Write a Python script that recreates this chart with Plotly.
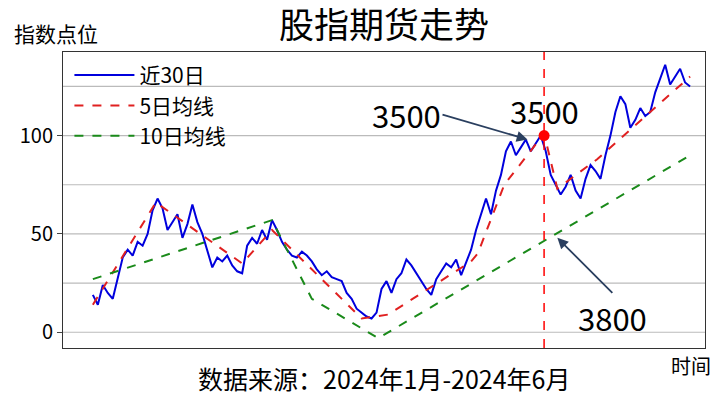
import plotly.graph_objects as go

# 近30日 (day index, value)
blue_day = [i * 1.5 for i in range(121)]
blue_val = [19, 14, 24, 20, 17, 28, 38, 42, 39, 46, 44,
            50, 62, 68, 63, 52, 56, 60, 48, 55, 65,
            56, 50, 42, 33, 38, 36, 39, 34, 31, 30,
            44, 48, 45, 52, 47, 57, 52, 46, 42, 39,
            38, 41, 39, 36, 32, 29, 31, 28, 27, 26,
            20, 17, 12, 10, 8, 7, 10, 22, 26, 20,
            27, 30, 37, 34, 30, 26, 22, 19, 27, 31,
            35, 33, 37, 29, 36, 42, 52, 60, 68, 60,
            72, 80, 92, 97, 90, 94, 98, 92, 96, 100,
            92, 80, 75, 70, 74, 80, 72, 68, 78, 85,
            82, 78, 90, 100, 112, 120, 116, 104, 108, 114,
            110, 112, 122, 129, 136, 126, 130, 134, 127, 125]

# 5日均线
red_day = [0, 19, 45, 54, 81, 89, 114, 116, 124, 136, 140, 152, 180]
red_val = [14, 66, 35, 52, 7, 9, 36, 40, 75, 101, 73, 88, 130]

# 10日均线
green_day = [0, 54, 66, 86, 180]
green_val = [27, 57, 17, -3, 90]

peak_day, peak_val = 136, 100
font = "Noto Sans CJK SC"

fig = go.Figure()
fig.add_trace(go.Scatter(x=blue_day, y=blue_val, mode="lines", name="近30日",
                         line=dict(color="#0000dd", width=2)))
fig.add_trace(go.Scatter(x=red_day, y=red_val, mode="lines", name="5日均线",
                         line=dict(color="#e02020", width=2, dash="dash")))
fig.add_trace(go.Scatter(x=green_day, y=green_val, mode="lines", name="10日均线",
                         line=dict(color="#1a8a1a", width=2, dash="dash")))
fig.add_trace(go.Scatter(x=[peak_day], y=[peak_val], mode="markers", showlegend=False,
                         marker=dict(color="red", size=11)))
fig.add_vline(x=peak_day, line=dict(color="red", width=1.5, dash="dash"))

fig.add_annotation(x=131, y=98, ax=-85, ay=-25, text="3500", showarrow=True,
                   arrowhead=2, arrowsize=1.2, arrowwidth=1.8, font=dict(size=31, color="black"),
                   xanchor="right")
fig.add_annotation(x=136, y=113, text="3500", showarrow=False, font=dict(size=31, color="black"))
fig.add_annotation(x=140, y=48, ax=55, ay=55, text="3800", showarrow=True,
                   arrowhead=2, arrowsize=1.2, arrowwidth=1.8, font=dict(size=31, color="black"),
                   yanchor="top")
fig.add_annotation(x=0.5, y=1.0, xref="paper", yref="paper", yshift=2, yanchor="bottom",
                   text="股指期货走势", showarrow=False, font=dict(size=35, color="black"))
fig.add_annotation(x=-0.08, y=1.0, xref="paper", yref="paper", yshift=2, yanchor="bottom",
                   xanchor="left", text="指数点位", showarrow=False, font=dict(size=21, color="black"))
fig.add_annotation(x=1.0, y=0, xref="paper", yref="paper", yshift=-1, yanchor="top",
                   xanchor="center", xshift=-14, text="时间", showarrow=False,
                   font=dict(size=20, color="black"))
fig.add_annotation(x=0.5, y=0, xref="paper", yref="paper", yshift=-10, yanchor="top",
                   text="数据来源：2024年1月-2024年6月", showarrow=False,
                   font=dict(size=25, color="black"))

fig.update_layout(
    width=720, height=404, margin=dict(l=55, r=23, t=44, b=64),
    paper_bgcolor="white", plot_bgcolor="white",
    font=dict(family=font, color="black"),
    legend=dict(x=0.01, y=0.99, bgcolor="rgba(0,0,0,0)", font=dict(size=21),
                itemwidth=60, tracegroupgap=0),
    xaxis=dict(range=[-9, 184.5], showticklabels=False, showgrid=False, zeroline=False,
               showline=True, linecolor="#333", mirror=True),
    yaxis=dict(range=[-8, 142.5], tickvals=[0, 50, 100], showgrid=False, zeroline=False,
               showline=True, linecolor="#333", mirror=True, ticks="outside",
               tickfont=dict(size=20)),
)
for g in [0, 25, 50, 75, 100, 125]:
    fig.add_hline(y=g, line=dict(color="#bbbbbb", width=1.2), layer="below")

fig.write_html("out.html")
